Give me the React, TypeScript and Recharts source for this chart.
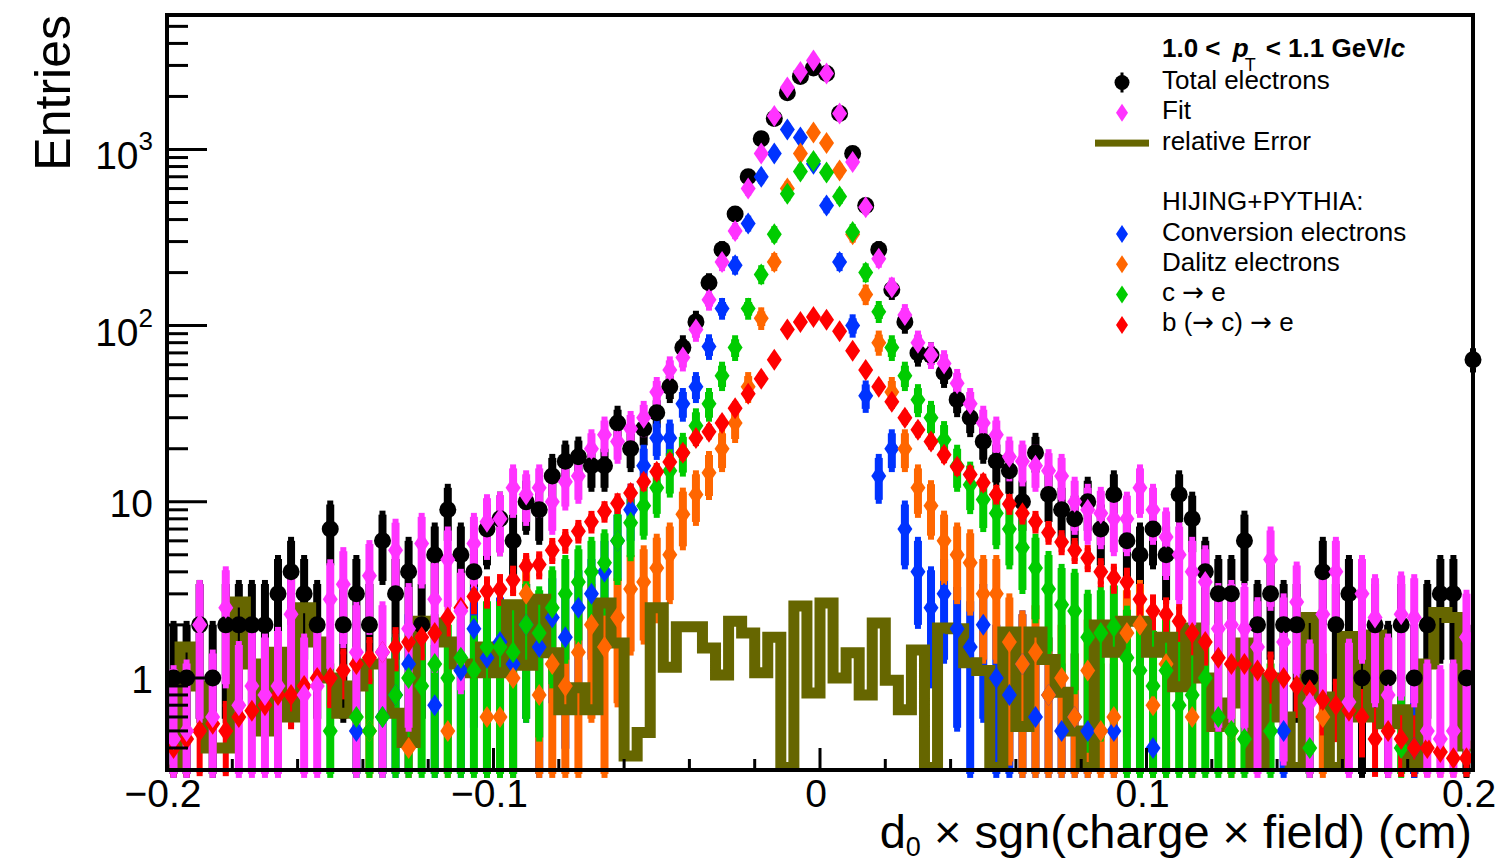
import { ComposedChart, Scatter, Line, XAxis, YAxis, ErrorBar } from 'recharts'

const FONT = '"Liberation Sans", Arial, Helvetica, sans-serif'
const ARROW_FONT = '"DejaVu Sans", sans-serif'

const BLACK = '#000000'
const MAGENTA = '#ff33ff'
const BLUE = '#0033ff'
const ORANGE = '#ff6600'
const GREEN = '#00cc00'
const RED = '#ff0000'
const OLIVE = '#666600'

// 100 bins of 0.004 cm between -0.2 and 0.2 (bin centres)
const binCenters = Array.from({ length: 100 }, (_, i) => Number((-0.2 + 0.004 * (i + 0.5)).toFixed(4)))

const xTicks = [-0.2, -0.18, -0.16, -0.14, -0.12, -0.1, -0.08, -0.06, -0.04, -0.02, 0,
  0.02, 0.04, 0.06, 0.08, 0.1, 0.12, 0.14, 0.16, 0.18, 0.2]
const xLabels: Record<string, string> = { '-0.2': '\u22120.2', '-0.1': '\u22120.1', '0': '0', '0.1': '0.1', '0.2': '0.2' }

const yTicks = [0.4, 0.5, 0.6, 0.7, 0.8, 0.9, 1, 2, 3, 4, 5, 6, 7, 8, 9, 10, 20, 30, 40, 50, 60, 70, 80, 90,
  100, 200, 300, 400, 500, 600, 700, 800, 900, 1000, 2000, 3000, 4000, 5000]
const yLabels: Record<number, [string, string]> = { 1: ['1', ''], 10: ['10', ''], 100: ['10', '2'], 1000: ['10', '3'] }

const totalElectrons = [
  1, 1, 2, 1, 2, 2, 2, 2, 3, 4,
  3, 2, 7, 2, 3, 2, 6, 3, 4, 2,
  5, 9, 5, 4, 7, 8, 6, 10, 9, 14,
  17, 18, 16, 16, 28, 20, 26, 32, 45, 75,
  105, 175, 270, 430, 700, 1150, 1500, 2100, 2600, 2900,
  2700, 1600, 950, 480, 270, 160, 105, 70, 68, 54,
  38, 30, 22, 17, 15, 10, 19, 11, 9, 8,
  10, 7, 11, 6, 5, 7, 5, 11, 8, 4,
  3, 3, 6, 2, 3, 2, 2, 1, 4, 2,
  3, 1, 2, 1, 2, 1, 2, 3, 3, 1,
]

const fitValues = [
  0.45, 0.5, 2, 0.6, 2.5, 0.7, 0.9, 0.8, 0.9, 2.3,
  0.8, 0.9, 2.8, 3.4, 1.4, 3.8, 1.4, 5.3, 1.9, 5.8,
  2.8, 4.7, 2.4, 5.8, 7.7, 8, 12, 11, 12, 10,
  13, 14, 20, 24, 22, 26, 30, 42, 56, 66,
  95, 140, 230, 345, 600, 950, 1550, 2250, 2750, 3200,
  2700, 1600, 850, 470, 240, 165, 115, 80, 68, 61,
  47, 36, 28, 24, 18, 17, 16, 15, 14, 10,
  9, 8.6, 8, 8, 12, 9, 6.3, 5, 4, 3.5,
  1.9, 2, 1.9, 1.5, 4.7, 1.6, 2.7, 0.72, 2.3, 4,
  0.73, 3, 2.2, 0.8, 2.3, 2.2, 0.5, 0.45, 0.5, 1.7,
]

const conversion = [
  0, 0, 0, 0, 0, 0, 0, 0, 0, 0,
  0, 0, 0, 0, 0.5, 0, 0.6, 0.8, 1.2, 0,
  0.7, 0, 1.1, 1.9, 1.3, 1.6, 1.2, 2, 1.5, 2.2,
  1.7, 2.5, 3, 4, 6, 9, 16, 23, 23, 36,
  45, 76, 125, 220, 380, 700, 950, 1300, 1170, 830,
  480, 230, 100, 40, 14, 20, 7, 4, 2.5, 3,
  1.9, 1.5, 2, 1, 0.8, 1.2, 0.6, 0.8, 0.5, 0.6,
  0.5, 0, 0.5, 0, 0, 0.4, 0, 0, 0, 0,
  0, 0, 0, 0, 0, 0.5, 0, 0, 0, 0,
  0, 0, 0, 0, 0, 0.4, 0, 0, 0, 0,
]

const dalitz = [
  0, 0, 0, 0, 0, 0, 0, 0, 0, 0,
  0, 0, 0, 0, 0, 0.5, 0, 0, 0.4, 0,
  0, 0.5, 0, 0, 0.6, 0.6, 1, 3, 0.8, 1.2,
  0.9, 1.4, 2, 1.5, 2.2, 3.2, 3.5, 4.2, 5, 8.5,
  11, 14.6, 20, 28, 45, 110, 230, 600, 950, 1250,
  1090, 760, 330, 150, 80, 42, 20, 12, 9.5, 6,
  5, 4.5, 3, 3, 1.6, 1.2, 1.4, 0.8, 1, 0.6,
  1.1, 0.5, 0.6, 1.8, 2, 0.7, 1.2, 0, 0.6, 0,
  0, 0.5, 0, 0, 0, 0, 0, 0, 0.6, 0,
  0, 0, 0, 0, 0, 0, 0, 0, 0, 0,
]

const charm = [
  0, 0, 0, 0, 0, 0, 0, 0, 0, 0,
  0, 0, 0.5, 0, 0.6, 0.5, 0.6, 0.8, 1, 0.9,
  1.2, 1, 1.3, 1.1, 1.5, 1.5, 1.4, 2, 1.8, 2.5,
  3, 3.5, 4, 4.5, 6, 7.6, 9.5, 12, 15, 19,
  27, 36, 52, 75, 125, 195, 330, 560, 750, 860,
  740, 540, 340, 200, 120, 75, 52, 38, 30, 22.5,
  16, 12.5, 10.3, 8.6, 7, 5.5, 4.2, 3.2, 2.6, 2.4,
  1.7, 1.8, 1.95, 1.3, 1.1, 0.9, 1.1, 0.7, 0.8, 1,
  0.6, 0.5, 0.45, 0, 0.5, 0, 0, 0.4, 0, 0,
  0, 0, 0, 0, 0.4, 0, 0, 0, 0, 0,
]

const beauty = [
  0.4, 0.45, 0.5, 0.55, 0.5, 0.6, 0.65, 0.7, 0.8, 0.8,
  0.9, 1, 1, 1.1, 1.2, 1.3, 1.4, 1.5, 1.6, 1.7,
  1.8, 2.2, 2.5, 2.9, 3.1, 3.2, 3.6, 4.3, 4.4, 5.3,
  6, 6.8, 7.7, 8.8, 9.8, 11.2, 13, 14.8, 16.8, 19,
  23, 25, 28, 34, 41, 50, 64, 95, 105, 112,
  108, 93, 72, 56, 45, 37, 30, 25.6, 22, 18.5,
  15.8, 14.3, 12.8, 11, 9.7, 8.6, 7.7, 6.7, 5.9, 5.3,
  4.8, 4, 3.7, 3.5, 2.8, 2.4, 2.3, 2.1, 1.8, 1.6,
  1.3, 1.2, 1.2, 1.1, 1.05, 1, 0.9, 0.85, 0.75, 0.7,
  0.65, 0.6, 0.45, 0.5, 0.45, 0.4, 0.4, 0.38, 0.35, 0.35,
]

const relativeError = [
  0.3, 1.5, 0.9, 0.4, 0.4, 2.7, 1.2, 0.5, 1.4, 0.6,
  2.5, 1.6, 1.0, 0.63, 0.9, 1.2, 1.2, 0.63, 0.43, 2.1,
  2.05, 1.6, 1.2, 1.07, 1.5, 1.07, 2.6, 1.18, 2.8, 1.39,
  0.66, 0.88, 0.66, 2.66, 1.58, 0.36, 0.49, 2.5, 1.15, 1.95,
  1.95, 1.48, 1.04, 2.1, 1.8, 1.07, 1.7, 0.31, 2.56, 0.82,
  2.66, 1.0, 1.39, 0.8, 2.05, 0.97, 0.66, 1.44, 0.31, 1.92,
  1.9, 1.22, 1.1, 0.31, 1.82, 0.53, 1.82, 1.27, 0.83, 0.5,
  0.31, 2.0, 1.4, 2.1, 2.1, 1.4, 1.7, 0.89, 1.92, 1.0,
  0.53, 0.72, 1.58, 0.31, 1.0, 0.6, 0.31, 2.2, 0.78, 0.31,
  1.72, 0.6, 1.75, 0.55, 0.66, 0.32, 1.2, 2.35, 2.2, 0.41,
]

// last total-electron entry sitting on the upper edge of the range
const edgeX = [0.2]
const edgeTotal = [64]

const Y_MIN = 0.3
const Y_MAX = 5800

function withErrors(xs: number[], values: number[], k: number) {
  return xs
    .map((x, i) => {
      const y = values[i]
      const e = k * Math.sqrt(y)
      return { x, y, err: [Math.min(e, y - Y_MIN * 0.95), e] }
    })
    .filter((p) => p.y > 0)
}

const totalData = withErrors(binCenters, totalElectrons, 1)
const fitData = withErrors(binCenters, fitValues, 1)
const convData = withErrors(binCenters, conversion, 1)
const dalitzData = withErrors(binCenters, dalitz, 1)
const charmData = withErrors(binCenters, charm, 1)
const beautyData = withErrors(binCenters, beauty, 0.3)
const errorData = binCenters.map((x, i) => ({ x, y: relativeError[i] }))
const edgeData = withErrors(edgeX, edgeTotal, 1)

const DW = 7.5
const DH = 11

const diamond = (fill: string) => (p: any) => {
  if (p.cx == null || p.cy == null || !isFinite(p.cy)) return <g />
  const { cx, cy } = p
  return <path d={`M${cx},${cy - DH}L${cx + DW},${cy}L${cx},${cy + DH}L${cx - DW},${cy}Z`} fill={fill} />
}

const dot = (p: any) => {
  if (p.cx == null || p.cy == null || !isFinite(p.cy)) return <g />
  return <circle cx={p.cx} cy={p.cy} r={8.5} fill={BLACK} />
}

function XTick(props: any) {
  const { x, y, payload } = props
  const label = xLabels[String(payload.value)]
  return (
    <g>
      <line x1={x} x2={x} y1={y} y2={y - (label ? 22 : 11)} stroke="#000" strokeWidth={3} />
      {label && (
        <text x={x - 4} y={y + 37} textAnchor="middle" fontSize={39} fontFamily={FONT} fill="#000">
          {label}
        </text>
      )}
    </g>
  )
}

function YTick(props: any) {
  const { x, y, payload } = props
  const label = yLabels[payload.value]
  return (
    <g>
      <line x1={x} x2={x + (label ? 40 : 21)} y1={y} y2={y} stroke="#000" strokeWidth={3} />
      {label && (
        <text x={x - 14} y={y + (label[1] ? 20 : 15)} textAnchor="end" fontSize={39} fontFamily={FONT} fill="#000">
          {label[0]}
          {label[1] && (
            <tspan dy={-19} fontSize={26}>
              {label[1]}
            </tspan>
          )}
        </text>
      )}
    </g>
  )
}

// split a label so the arrows can use a font with a full-size arrow glyph
function withArrows(label: string) {
  return label.split(/(\u2192)/).map((part, i) =>
    part === '\u2192' ? (
      <tspan key={i} fontFamily={ARROW_FONT}>
        {part}
      </tspan>
    ) : (
      <tspan key={i}>{part}</tspan>
    )
  )
}

const legendRows = [
  { label: 'Total electrons', color: BLACK, marker: 'circle' },
  { label: 'Fit', color: MAGENTA, marker: 'diamond' },
  { label: 'relative Error', color: OLIVE, marker: 'line' },
  { label: '', color: '', marker: 'none' },
  { label: 'HIJING+PYTHIA:', color: '', marker: 'none' },
  { label: 'Conversion electrons', color: BLUE, marker: 'diamond' },
  { label: 'Dalitz electrons', color: ORANGE, marker: 'diamond' },
  { label: 'c \u2192 e', color: GREEN, marker: 'diamond' },
  { label: 'b (\u2192 c) \u2192 e', color: RED, marker: 'diamond' },
]

function LegendMarker({ kind, color, cy }: { kind: string; color: string; cy: number }) {
  const cx = 1122
  if (kind === 'circle')
    return (
      <g>
        <rect x={cx - 1.5} y={cy - 10} width={3} height={20} fill={color} />
        <circle cx={cx} cy={cy} r={7.5} fill={color} />
      </g>
    )
  if (kind === 'diamond')
    return <path d={`M${cx},${cy - 9}L${cx + 6},${cy}L${cx},${cy + 9}L${cx - 6},${cy}Z`} fill={color} />
  if (kind === 'line') return <rect x={1095} y={cy - 3.5} width={54} height={7} fill={color} />
  return null
}

export default function App() {
  return (
    <div style={{ position: 'absolute', left: 0, top: 0, width: 1496, height: 863, background: '#fff' }}>
      <ComposedChart width={1496} height={863} margin={{ top: 15, right: 23, bottom: 92, left: 166 }}>
        <XAxis
          type="number"
          dataKey="x"
          domain={[-0.2, 0.2]}
          ticks={xTicks}
          interval={0}
          height={1}
          tickSize={0}
          tickMargin={0}
          tickLine={false}
          axisLine={false}
          tick={<XTick />}
        />
        <YAxis
          type="number"
          dataKey="y"
          scale="log"
          domain={[Y_MIN, Y_MAX]}
          allowDataOverflow
          ticks={yTicks}
          interval={0}
          width={1}
          tickSize={0}
          tickMargin={0}
          tickLine={false}
          axisLine={false}
          tick={<YTick />}
        />
        <YAxis yAxisId="edge" type="number" dataKey="y" scale="log" domain={[Y_MIN, Y_MAX]} hide />

        <Scatter data={totalData} dataKey="y" shape={dot} isAnimationActive={false}>
          <ErrorBar dataKey="err" direction="y" width={3} strokeWidth={8} stroke={BLACK} isAnimationActive={false} />
        </Scatter>
        <Scatter data={convData} dataKey="y" shape={diamond(BLUE)} isAnimationActive={false}>
          <ErrorBar dataKey="err" direction="y" width={3} strokeWidth={8} stroke={BLUE} isAnimationActive={false} />
        </Scatter>
        <Scatter data={dalitzData} dataKey="y" shape={diamond(ORANGE)} isAnimationActive={false}>
          <ErrorBar dataKey="err" direction="y" width={3} strokeWidth={8} stroke={ORANGE} isAnimationActive={false} />
        </Scatter>
        <Scatter data={charmData} dataKey="y" shape={diamond(GREEN)} isAnimationActive={false}>
          <ErrorBar dataKey="err" direction="y" width={3} strokeWidth={8} stroke={GREEN} isAnimationActive={false} />
        </Scatter>
        <Scatter data={beautyData} dataKey="y" shape={diamond(RED)} isAnimationActive={false}>
          <ErrorBar dataKey="err" direction="y" width={3} strokeWidth={6} stroke={RED} isAnimationActive={false} />
        </Scatter>
        <Line
          data={errorData}
          dataKey="y"
          type="step"
          stroke={OLIVE}
          strokeWidth={11}
          strokeLinejoin="miter"
          strokeLinecap="square"
          dot={false}
          activeDot={false}
          isAnimationActive={false}
        />
        <Scatter data={fitData} dataKey="y" shape={diamond(MAGENTA)} isAnimationActive={false}>
          <ErrorBar dataKey="err" direction="y" width={3} strokeWidth={8} stroke={MAGENTA} isAnimationActive={false} />
        </Scatter>
        <Scatter yAxisId="edge" data={edgeData} dataKey="y" shape={dot} isAnimationActive={false}>
          <ErrorBar dataKey="err" direction="y" width={3} strokeWidth={5} stroke={BLACK} isAnimationActive={false} />
        </Scatter>
      </ComposedChart>

      <svg
        width={1496}
        height={863}
        style={{ position: 'absolute', left: 0, top: 0, pointerEvents: 'none' }}
        fontFamily={FONT}
      >
        <rect x={167} y={15} width={1306} height={755} fill="none" stroke="#000" strokeWidth={4} />
        <text transform="translate(70,15) rotate(-90)" textAnchor="end" fontSize={50} fill="#000">
          Entries
        </text>
        <text x={1472} y={848} textAnchor="end" fontSize={47} fill="#000">
          d
          <tspan fontSize={27} dy={8}>
            0
          </tspan>
          <tspan dy={-8}>{' \u00d7 sgn(charge \u00d7 field) (cm)'}</tspan>
        </text>

        <text x={1162} y={57} fontSize={26} fontWeight="bold" fill="#000">
          {'1.0 < '}
          <tspan fontStyle="italic" dx={5}>
            p
          </tspan>
          <tspan fontSize={18} fontWeight="normal" dx={-4} dy={14}>
            T
          </tspan>
          <tspan dy={-14} dx={10}>
            {'< 1.1 GeV/'}
          </tspan>
          <tspan fontStyle="italic">c</tspan>
        </text>
        {legendRows.map((row, k) => {
          const baseline = 89 + 30.3 * k
          return (
            <g key={k}>
              <LegendMarker kind={row.marker} color={row.color} cy={baseline - 6.5} />
              <text x={1162} y={baseline} fontSize={26} fill="#000">
                {withArrows(row.label)}
              </text>
            </g>
          )
        })}
      </svg>
    </div>
  )
}
